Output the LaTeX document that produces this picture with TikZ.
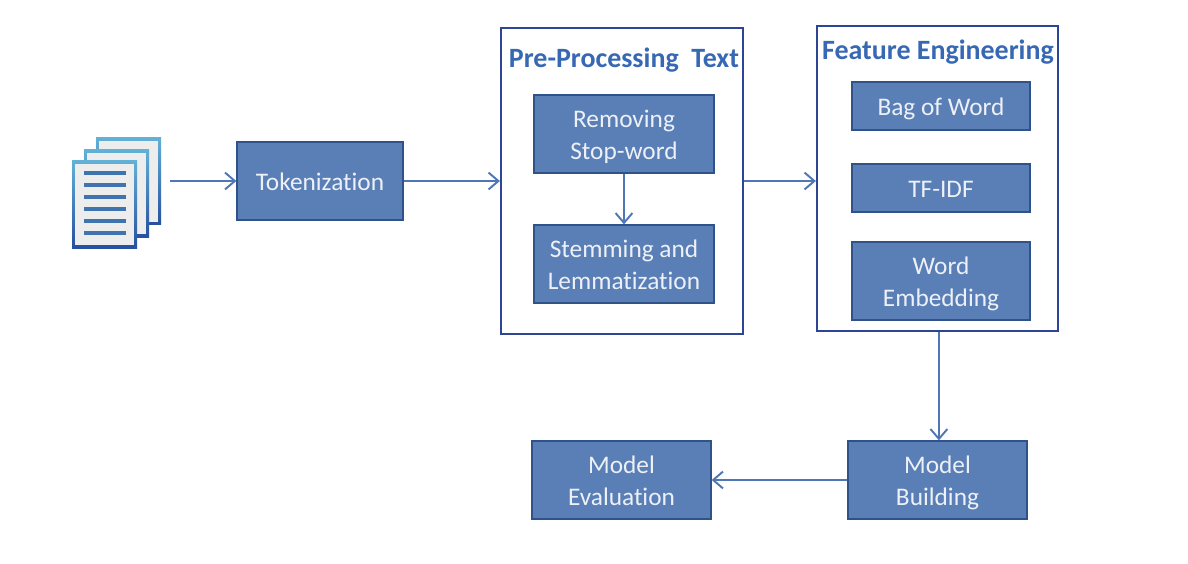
\documentclass[tikz,border=0pt]{standalone}
\usepackage{fontspec}
\setmainfont[Ligatures=NoCommon]{Carlito}
\usetikzlibrary{arrows.meta}
\definecolor{boxfill}{HTML}{5A7FB6}
\definecolor{boxline}{HTML}{2F5289}
\definecolor{frameline}{HTML}{2E4596}
\definecolor{titleblue}{HTML}{3768B4}
\definecolor{arrowblue}{HTML}{4F77B5}
\definecolor{textwhite}{HTML}{EDF1F7}
\definecolor{pagetop}{HTML}{62B0D5}
\definecolor{pagebottom}{HTML}{2750A0}
\definecolor{pageline}{HTML}{3F74AE}
\tikzset{
    stage/.style={draw=boxline, line width=0.35pt, fill=boxfill, text=textwhite, align=center, font=\fontsize{7.2}{8.9}\selectfont, inner sep=0pt, text height=6pt, text depth=0.32pt},
    stagetwo/.style={stage, text height=14.7pt},
    frame/.style={draw=frameline, line width=0.6pt, fill=white, inner sep=0pt},
    heading/.style={text=titleblue, inner sep=0pt, font=\fontsize{7.95}{9}\selectfont\bfseries},
    flow/.style={draw=arrowblue, line width=0.55pt, -{Straight Barb[length=2.8pt,width=4.8pt]}},
}
\begin{document}
\begin{tikzpicture}[x=0.01cm, y=-0.01cm]
\useasboundingbox [fill=white] (0,0) rectangle (1188,564);

%document icon
\foreach \dx/\dy in {24/-23, 12/-11, 0/0} {
    \shade [top color=pagetop, bottom color=pagebottom] (72+\dx,161+\dy) rectangle (137+\dx,248+\dy);
    \fill [black!7] (75+\dx,164+\dy) rectangle (134+\dx,245+\dy);
}
\foreach \y in {173,185,197,209,221,233} {
    \draw [line width=1.1pt, color=pageline] (84,\y) -- (126,\y);
}
\coordinate (docs) at (170,181);

\node [stage, minimum width=1.66cm, minimum height=0.78cm] (token) at (320,181) {Tokenization};

%pre-processing
\node [frame, minimum width=2.42cm, minimum height=3.06cm] (pre) at (622,181) {};
\node [heading] (pretitle) at (624,60) {Pre-Processing\ \ Text};
\node [stagetwo, minimum width=1.80cm, minimum height=0.78cm] (stop) at (624,134) {Removing\\Stop-word};
\node [stagetwo, minimum width=1.80cm, minimum height=0.78cm] (stem) at (624,264) {Stemming and\\Lemmatization};

%features
\node [frame, minimum width=2.41cm, minimum height=3.05cm] (feat) at (937.5,178.5) {};
\node [heading] (feattitle) at (938,52) {Feature Engineering};
\node [stage, minimum width=1.78cm, minimum height=0.48cm] (bag) at (941,106) {Bag of Word};
\node [stage, minimum width=1.78cm, minimum height=0.48cm] (tfidf) at (941,188) {TF-IDF};
\node [stagetwo, minimum width=1.78cm, minimum height=0.78cm] (embed) at (941,281) {Word\\Embedding};

%model
\node [stagetwo, minimum width=1.79cm, minimum height=0.78cm] (build) at (937.5,480) {Model\\Building};
\node [stagetwo, minimum width=1.79cm, minimum height=0.78cm] (eval) at (621.5,480) {Model\\Evaluation};

\path (docs) edge [flow] (token);
\path (token) edge [flow] (pre);
\path (stop) edge [flow] (stem);
\path (pre) edge [flow] (pre -| feat.west);
\path ([xshift=0.4pt]feat.south) edge [flow] ([xshift=0.4pt]build.north);
\path (build) edge [flow] (eval);
\end{tikzpicture}
\end{document}
